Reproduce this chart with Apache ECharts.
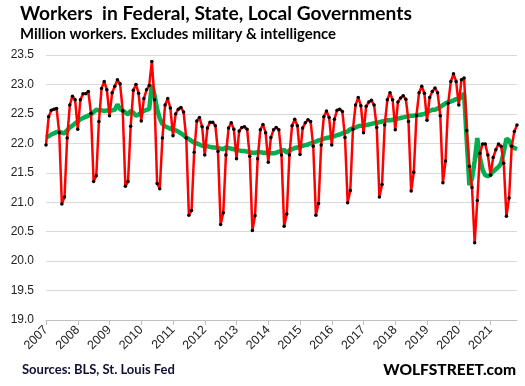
<!DOCTYPE html>
<html><head><meta charset="utf-8">
<script src="https://cdn.jsdelivr.net/npm/echarts@6/dist/echarts.min.js"></script>
<style>html,body{margin:0;padding:0;background:#fff}#c{width:525px;height:386px}</style>
</head><body><div id="c"></div>
<script>
const years = ['2007','2008','2009','2010','2011','2012','2013','2014','2015','2016','2017','2018','2019','2020','2021'];
const yTicks = [19.0,19.5,20.0,20.5,21.0,21.5,22.0,22.5,23.0,23.5];
// Not seasonally adjusted (red), Jan 2007 - Nov 2021
const nsa = [
 21.97,22.45,22.56,22.58,22.59,22.18,20.97,21.09,22.09,22.65,22.80,22.74,
 22.24,22.74,22.84,22.84,22.88,22.51,21.35,21.45,22.37,22.93,23.05,22.91,
 22.47,22.86,22.97,23.08,23.01,22.55,21.27,21.35,22.29,22.90,23.00,22.85,
 22.38,22.76,22.91,22.98,23.39,22.74,21.32,21.23,22.09,22.65,22.76,22.60,
 22.13,22.50,22.58,22.61,22.53,22.09,20.78,20.86,21.85,22.38,22.44,22.28,
 21.80,22.26,22.36,22.36,22.30,21.86,20.62,20.82,21.80,22.26,22.35,22.24,
 21.74,22.21,22.27,22.28,22.24,21.78,20.52,20.77,21.74,22.23,22.32,22.18,
 21.68,22.10,22.23,22.27,22.23,21.80,20.59,20.80,21.80,22.30,22.41,22.30,
 21.81,22.26,22.35,22.40,22.37,21.95,20.78,20.98,21.97,22.45,22.55,22.44,
 21.97,22.41,22.56,22.58,22.54,22.10,20.99,21.20,22.24,22.65,22.78,22.64,
 22.18,22.63,22.70,22.73,22.65,22.27,21.09,21.30,22.31,22.74,22.86,22.74,
 22.23,22.70,22.77,22.81,22.75,22.37,21.19,21.51,22.47,22.86,22.97,22.85,
 22.39,22.78,22.88,22.94,22.86,22.47,21.33,21.70,22.68,23.05,23.18,23.05,
 22.65,23.08,23.11,22.22,21.61,21.25,20.31,21.03,21.83,21.99,21.99,21.80,
 21.46,21.76,21.89,21.99,21.95,21.66,20.76,21.07,21.95,22.20,22.31
];
// Seasonally adjusted (green)
const sa = [
 22.10,22.12,22.15,22.17,22.19,22.20,22.18,22.17,22.22,22.27,22.30,22.34,
 22.37,22.41,22.43,22.45,22.47,22.49,22.53,22.57,22.56,22.56,22.55,22.56,
 22.55,22.56,22.57,22.66,22.58,22.56,22.52,22.49,22.55,22.52,22.47,22.49,
 22.52,22.55,22.57,22.58,23.00,22.82,22.58,22.42,22.33,22.29,22.27,22.25,
 22.23,22.22,22.20,22.17,22.14,22.10,22.07,22.04,22.01,22.00,21.98,21.96,
 21.96,21.95,21.94,21.93,21.93,21.92,21.91,21.90,21.93,21.92,21.91,21.90,
 21.89,21.88,21.87,21.87,21.86,21.85,21.84,21.84,21.85,21.85,21.84,21.84,
 21.83,21.83,21.83,21.84,21.86,21.87,21.89,21.84,21.88,21.90,21.92,21.93,
 21.94,21.96,21.97,21.98,22.00,22.01,22.03,22.05,22.06,22.08,22.09,22.10,
 22.11,22.12,22.14,22.15,22.17,22.19,22.20,22.24,22.26,22.27,22.29,22.30,
 22.30,22.31,22.32,22.33,22.34,22.35,22.36,22.37,22.38,22.39,22.39,22.40,
 22.41,22.42,22.43,22.44,22.45,22.46,22.47,22.47,22.48,22.48,22.49,22.50,
 22.52,22.55,22.57,22.57,22.59,22.62,22.65,22.68,22.70,22.71,22.73,22.75,
 22.76,22.78,22.85,22.05,21.29,21.40,21.70,22.09,21.75,21.55,21.46,21.44,
 21.47,21.52,21.56,21.60,21.66,21.85,22.08,22.05,21.95,21.92,21.90
];
const cats = nsa.map((v,i)=> years[Math.floor(i/12)] + '-' + String(i%12+1).padStart(2,'0'));
const isJan = (i)=> i % 12 === 0;
const chart = echarts.init(document.getElementById('c'), null, {renderer:'canvas'});
chart.setOption({
  animation:false,
  backgroundColor:'#fff',
  title:[
    {text:'Workers  in Federal, State, Local Governments', left:20, top:4, padding:0,
     textStyle:{fontFamily:'Lato', fontWeight:'bold', fontSize:19.2, color:'#000'}},
    {text:'Million workers. Excludes military & intelligence', left:20, top:27, padding:0,
     textStyle:{fontFamily:'Lato', fontWeight:'bold', fontSize:14.9, color:'#000'}},
    {text:'Sources: BLS, St. Louis Fed', left:22, top:363, padding:0,
     textStyle:{fontFamily:'Lato', fontWeight:'bold', fontSize:13, color:'#101030'}},
    {text:'WOLFSTREET.com', right:9, top:362, padding:0,
     textStyle:{fontFamily:'Lato', fontWeight:'900', fontSize:15.5, color:'#000'}}
  ],
  grid:{left:46, right:8, top:55, bottom:66, containLabel:false},
  xAxis:{
    type:'category', data:cats, boundaryGap:false,
    axisLine:{lineStyle:{color:'#bfbfbf'}},
    axisTick:{interval:(i)=>isJan(i), length:5, lineStyle:{color:'#bfbfbf'}},
    axisLabel:{interval:(i)=>isJan(i), rotate:45, formatter:(v)=>v.slice(0,4),
      fontFamily:'Liberation Sans', fontSize:12.5, color:'#222', margin:8},
    splitLine:{show:false}
  },
  yAxis:{
    type:'value', min:yTicks[0], max:yTicks[yTicks.length-1], interval:0.5,
    axisLine:{show:false}, axisTick:{show:false},
    axisLabel:{formatter:(v)=>v.toFixed(1), fontFamily:'Liberation Sans', fontSize:12, color:'#222', margin:12},
    splitLine:{lineStyle:{color:'#d9d9d9', width:1}}
  },
  series:[
    {type:'line', data:sa, symbol:'none', lineStyle:{color:'#00b050', width:4.5}, z:2},
    {type:'line', data:nsa, symbol:'circle', symbolSize:3.5, showSymbol:true, showAllSymbol:true,
     itemStyle:{color:'#000', borderWidth:0}, lineStyle:{color:'#ff0000', width:2.5}, z:3}
  ]
});
</script></body></html>
